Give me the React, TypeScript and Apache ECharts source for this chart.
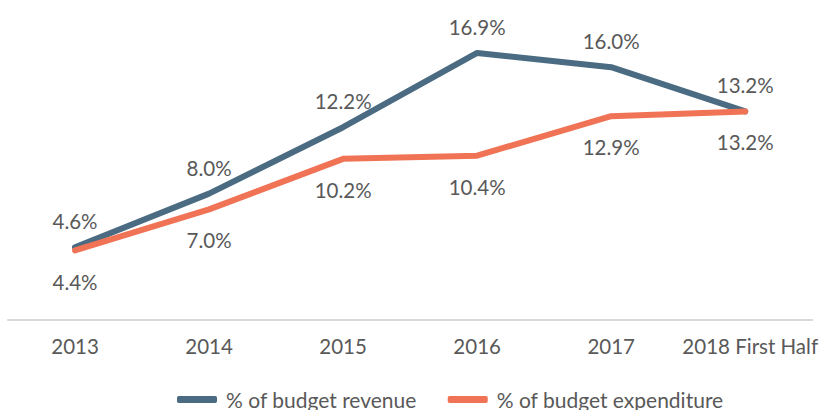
import React, { useEffect, useRef } from "react";
import * as echarts from "echarts";

const categories = ["2013", "2014", "2015", "2016", "2017", "2018 First Half"];
const revenue = [4.6, 8.0, 12.2, 16.9, 16.0, 13.2];
const expenditure = [4.4, 7.0, 10.2, 10.4, 12.9, 13.2];
const seriesNames = ["% of budget revenue", "% of budget expenditure"];

const FONT = "Lato";
const TEXT = "#595959";
const FS = 20.5;

export default function App() {
  const ref = useRef<HTMLDivElement>(null);
  useEffect(() => {
    if (!ref.current) return;
    const chart = echarts.init(ref.current, null, { renderer: "svg" });
    chart.setOption({
      animation: false,
      backgroundColor: "#ffffff",
      grid: { left: 8, right: 8, top: 4, bottom: 90, containLabel: false },
      legend: {
        data: seriesNames,
        left: 172,
        top: 384,
        icon: "roundRect",
        itemWidth: 40,
        itemHeight: 7,
        itemGap: 31,
        textStyle: { fontFamily: FONT, fontSize: 21, color: TEXT, padding: [0, 0, 0, 4] },
      },
      xAxis: {
        type: "category",
        data: categories,
        boundaryGap: true,
        axisLine: { show: true, lineStyle: { color: "#d9d9d9", width: 2 } },
        axisTick: { show: false },
        axisLabel: {
          fontFamily: FONT,
          fontSize: FS,
          color: TEXT,
          margin: 15,
          interval: 0,
          formatter: (v: string, i: number) => (i === 5 ? `{last|${v}}` : v),
          rich: {
            last: { fontFamily: FONT, fontSize: FS, color: TEXT, padding: [0, 0, 0, 10] },
          },
        },
      },
      yAxis: {
        type: "value",
        min: 0,
        max: 20,
        show: false,
        splitLine: { show: false },
      },
      series: [
        {
          name: seriesNames[0],
          type: "line",
          data: revenue,
          symbol: "circle",
          symbolSize: 0.1,
          color: "#4a6b82",
          lineStyle: { width: 6, color: "#4a6b82", cap: "round", join: "round" },
          label: {
            show: true,
            position: "top",
            distance: 15.5,
            formatter: (p: any) => p.value.toFixed(1) + "%",
            fontFamily: FONT,
            fontSize: FS,
            color: TEXT,
          },
          z: 3,
        },
        {
          name: seriesNames[1],
          type: "line",
          data: expenditure,
          symbol: "circle",
          symbolSize: 0.1,
          color: "#f07356",
          lineStyle: { width: 6, color: "#f07356", cap: "round", join: "round" },
          label: {
            show: true,
            position: "bottom",
            distance: 20.5,
            formatter: (p: any) => p.value.toFixed(1) + "%",
            fontFamily: FONT,
            fontSize: FS,
            color: TEXT,
          },
          z: 4,
        },
      ],
    });
    return () => chart.dispose();
  }, []);
  return (
    <div
      ref={ref}
      style={{ position: "fixed", left: 0, top: 0, width: 821, height: 410 }}
    />
  );
}
